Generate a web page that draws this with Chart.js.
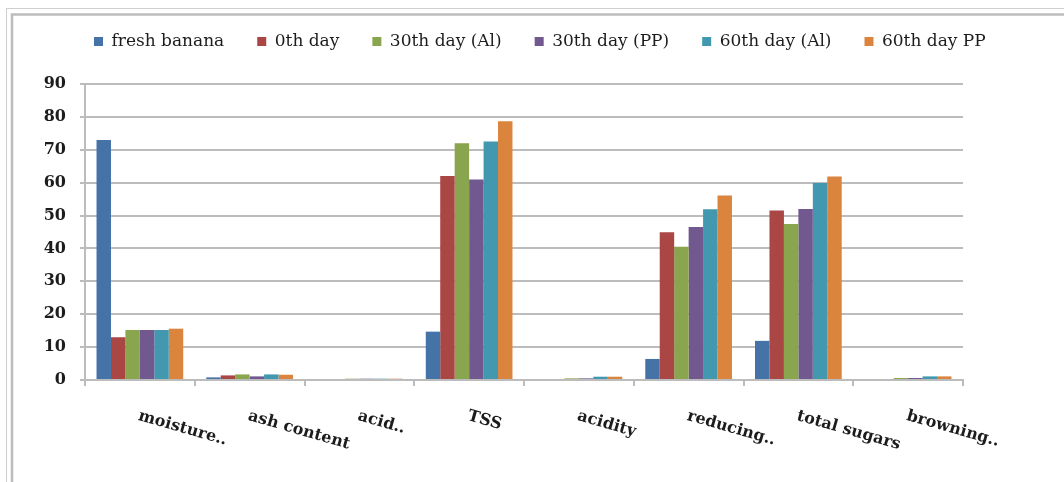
<!DOCTYPE html>
<html>
<head>
<meta charset="utf-8">
<title>Banana quality parameters</title>
<script src="https://cdn.jsdelivr.net/npm/chart.js@4/dist/chart.umd.min.js"></script>
<style>
  html, body { margin: 0; padding: 0; background: #ffffff; }
  #wrap { width: 1064px; height: 482px; position: relative; }
</style>
</head>
<body>
<div id="wrap"><canvas id="c" width="1064" height="482"></canvas></div>
<script>
// Quality parameters measured on each sample
const categories = ['moisture..', 'ash content', 'acid..', 'TSS', 'acidity', 'reducing..', 'total sugars', 'browning..'];

const seriesNames = ['fresh banana', '0th day', '30th day (Al)', '30th day (PP)', '60th day (Al)', '60th day PP'];

const freshBanana = [73.0, 0.8, null, 14.7, null, 6.4, 11.9, null];
const day0        = [13.0, 1.4, null, 62.0, null, 44.9, 51.5, null];
const day30Al     = [15.2, 1.7, 0.4, 72.0, 0.5, 40.5, 47.4, 0.6];
const day30PP     = [15.2, 1.1, 0.4, 61.0, 0.5, 46.5, 52.0, 0.6];
const day60Al     = [15.2, 1.7, 0.4, 72.5, 1.0, 51.9, 59.9, 1.1];
const day60PP     = [15.6, 1.6, 0.4, 78.7, 1.0, 56.1, 61.9, 1.1];

const yTicks = [0, 10, 20, 30, 40, 50, 60, 70, 80, 90];

const seriesValues = [freshBanana, day0, day30Al, day30PP, day60Al, day60PP];
const seriesColors = ['#4572A7', '#AA4643', '#89A54E', '#71588F', '#4198AF', '#DB843D'];

const gridGray = '#bcbcbc';
const textColor = '#1c1c1c';

// Slanted category labels, hanging down to the right from each category centre
const slantedLabels = {
  id: 'slantedLabels',
  afterDraw(chart) {
    const ctx = chart.ctx;
    const xs = chart.scales.x;
    ctx.save();
    ctx.fillStyle = textColor;
    ctx.font = 'bold 16px "DejaVu Serif"';
    ctx.textAlign = 'left';
    ctx.textBaseline = 'top';
    categories.forEach((label, i) => {
      const x = xs.getPixelForValue(i) + 1;
      ctx.save();
      ctx.translate(x, 408);
      ctx.rotate(16 * Math.PI / 180);
      ctx.fillText(label, 0, 0);
      ctx.restore();
    });
    ctx.restore();
  }
};

// Start the legend row a little in from the left edge
const legendIndent = {
  id: 'legendIndent',
  afterLayout(chart) {
    const lg = chart.legend;
    if (lg) { lg.left = 61; lg.right = chart.width; }
  }
};

// White background and the double frame around the figure
const frame = {
  id: 'frame',
  beforeDraw(chart) {
    const ctx = chart.ctx;
    ctx.save();
    ctx.fillStyle = '#ffffff';
    ctx.fillRect(0, 0, chart.width, chart.height);
    ctx.strokeStyle = '#cfcfcf';
    ctx.lineWidth = 1;
    ctx.strokeRect(6.5, 8.5, 1200, 600);
    ctx.strokeStyle = '#bdbdbd';
    ctx.lineWidth = 2.5;
    ctx.strokeRect(12, 14.5, 1200, 600);
    ctx.restore();
  }
};

new Chart(document.getElementById('c'), {
  type: 'bar',
  data: {
    labels: categories,
    datasets: seriesNames.map((name, i) => ({
      label: name,
      data: seriesValues[i],
      backgroundColor: seriesColors[i],
      borderWidth: 0,
      categoryPercentage: 0.79,
      barPercentage: 1.0
    }))
  },
  options: {
    responsive: false,
    animation: false,
    layout: { padding: { left: 0, right: 0, top: 0, bottom: 0 } },
    plugins: {
      tooltip: { enabled: false },
      legend: {
        position: 'top',
        align: 'start',
        labels: {
          boxWidth: 9,
          boxHeight: 9,
          padding: 33,
          color: textColor,
          font: { family: '"DejaVu Serif"', size: 17 }
        }
      }
    },
    scales: {
      x: {
        type: 'category',
        position: 'bottom',
        offset: true,
        grid: {
          offset: true,
          drawOnChartArea: false,
          drawTicks: true,
          tickLength: 6,
          color: gridGray,
          lineWidth: 2
        },
        border: { display: true, color: gridGray, width: 2 },
        ticks: { display: false },
        afterFit(s) { s.height = 102; }
      },
      xTop: {
        type: 'linear',
        position: 'top',
        display: true,
        grid: { display: false },
        border: { display: false },
        ticks: { display: false },
        afterFit(s) { s.height = 24; }
      },
      y: {
        type: 'linear',
        position: 'left',
        min: 0,
        max: 90,
        afterBuildTicks(s) { s.ticks = yTicks.map(v => ({ value: v })); },
        grid: {
          color: gridGray,
          lineWidth: 2,
          drawTicks: true,
          tickLength: 5
        },
        border: { display: true, color: gridGray, width: 2 },
        ticks: {
          padding: 14,
          color: textColor,
          font: { family: '"DejaVu Serif"', size: 16, weight: 'bold' }
        },
        afterFit(s) { s.width = 85; }
      },
      yRight: {
        type: 'linear',
        position: 'right',
        display: true,
        grid: { display: false },
        border: { display: false },
        ticks: { display: false },
        afterFit(s) { s.width = 101; }
      }
    }
  },
  plugins: [frame, legendIndent, slantedLabels]
});
</script>
</body>
</html>
